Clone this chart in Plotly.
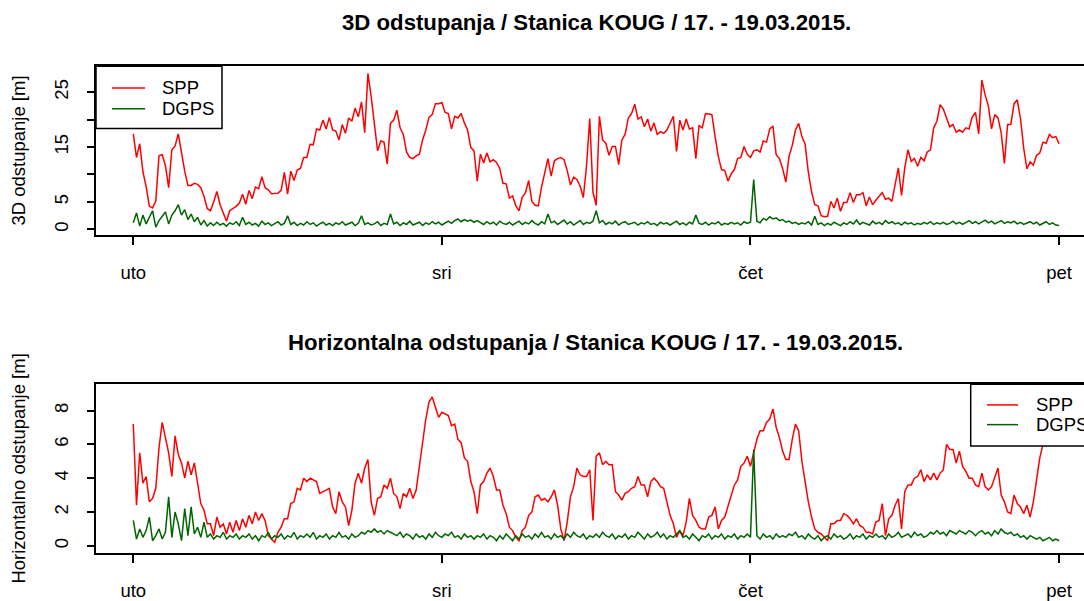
import numpy as np
import plotly.graph_objects as go

W, H = 1084, 601
# the page is drawn slightly squeezed vertically; place items accordingly
VSCALE = 0.984

# 15-minute epochs over three days (hours since Tuesday 00:00)
hours = np.arange(289) * 0.25

spp_3d = [
    17.4, 13.1, 15.6, 10.5, 7.8, 4.2, 3.9, 5.2, 13.4, 13.6, 11.6, 7.6,
    14.5, 15.2, 17.4, 13.7, 10.6, 8.0, 8.0, 8.4, 8.2, 7.6, 6.0, 3.8,
    3.4, 5.0, 6.9, 4.5, 2.8, 1.5, 3.4, 3.8, 4.2, 4.8, 6.4, 4.6,
    7.1, 5.6, 7.7, 7.4, 9.6, 7.6, 7.2, 6.5, 6.6, 6.6, 7.1, 10.4,
    6.4, 10.6, 8.9, 10.8, 11.1, 13.1, 13.1, 15.5, 15.4, 18.3, 18.1, 19.9,
    18.3, 20.4, 18.1, 17.9, 16.3, 19.1, 17.5, 20.3, 19.7, 22.1, 20.5, 23.2,
    17.6, 28.4, 24.2, 19.7, 14.3, 16.1, 15.9, 11.9, 19.3, 19.9, 21.7, 18.5,
    17.3, 14.1, 13.1, 12.9, 13.4, 13.7, 16.3, 18.1, 20.4, 20.9, 22.9, 22.9,
    23.1, 21.3, 21.1, 18.3, 20.6, 20.3, 21.1, 19.4, 18.1, 14.9, 14.3, 8.8,
    13.7, 12.1, 13.9, 12.3, 12.7, 12.2, 11.1, 8.4, 8.3, 5.7, 6.1, 4.3,
    3.4, 5.9, 6.7, 8.9, 5.1, 4.4, 4.3, 7.7, 10.1, 12.9, 9.7, 12.5,
    12.9, 13.1, 12.7, 10.7, 8.1, 9.5, 9.1, 7.9, 5.8, 11.6, 20.2, 6.8,
    4.4, 20.6, 16.3, 15.7, 13.5, 15.1, 15.1, 11.8, 16.3, 17.3, 20.3, 21.1,
    22.8, 20.1, 20.5, 18.7, 20.1, 17.9, 19.4, 17.3, 17.8, 17.5, 18.1, 19.4,
    20.6, 14.2, 19.9, 18.1, 20.1, 18.3, 18.5, 12.9, 18.9, 18.5, 21.1, 21.0,
    20.9, 16.9, 13.3, 10.9, 10.7, 8.8, 10.1, 10.9, 12.9, 13.1, 15.1, 13.7,
    13.1, 14.3, 14.5, 14.1, 16.1, 15.9, 18.3, 18.8, 13.6, 12.9, 11.1, 8.6,
    13.3, 15.3, 18.1, 19.3, 16.9, 15.5, 10.4, 6.9, 4.5, 4.3, 2.5, 2.3,
    2.4, 5.1, 3.9, 5.7, 3.3, 4.9, 4.9, 6.7, 4.9, 6.3, 6.3, 6.7,
    4.3, 5.9, 4.5, 5.3, 6.1, 6.7, 5.5, 5.7, 5.1, 8.3, 11.2, 6.2,
    11.2, 14.5, 12.4, 12.9, 11.5, 13.1, 12.5, 14.1, 14.5, 18.5, 19.7, 22.7,
    21.9, 20.3, 18.7, 19.1, 17.7, 18.1, 17.7, 18.5, 18.3, 20.5, 21.3, 17.4,
    27.2, 24.5, 22.5, 18.3, 20.9, 20.3, 17.6, 12.0, 19.1, 19.1, 22.9, 23.6,
    20.2, 14.8, 11.0, 12.3, 11.7, 13.5, 13.9, 15.9, 15.7, 17.3, 16.7, 16.9, 15.6,
]

dgps_3d = [
    1.2, 3.0, 0.6, 2.6, 1.0, 2.2, 3.4, 0.4, 1.6, 2.4, 3.2, 1.0,
    2.6, 3.4, 4.5, 2.6, 3.6, 1.8, 2.8, 1.4, 2.2, 0.8, 1.6, 0.6,
    1.2, 0.7, 1.3, 0.8, 1.1, 0.6, 1.2, 0.9, 1.4, 0.7, 2.2, 0.9,
    1.3, 0.8, 1.1, 0.6, 1.5, 0.9, 1.2, 0.7, 1.0, 1.4, 0.8, 1.1,
    2.5, 0.9, 1.3, 0.7, 1.1, 0.8, 1.4, 0.9, 1.2, 0.6, 1.0, 1.3,
    0.8, 1.1, 0.7, 1.2, 0.9, 1.4, 0.8, 1.0, 1.3, 0.7, 1.1, 2.5,
    0.9, 1.2, 0.8, 1.0, 1.4, 0.7, 1.1, 0.9, 2.8, 1.0, 1.3, 0.7,
    1.2, 0.9, 1.5, 0.8, 1.1, 1.3, 0.7, 1.2, 0.9, 1.4, 1.0, 1.3,
    0.8, 1.2, 1.5, 1.1, 1.6, 1.9, 1.4, 1.8, 1.5, 1.7, 1.3, 1.6,
    1.2, 0.9, 1.4, 1.0, 1.3, 0.8, 1.5, 1.1, 0.9, 1.3, 0.8, 1.2,
    1.5, 0.9, 1.3, 1.0, 1.6, 1.1, 0.8, 1.4, 1.0, 2.8, 1.2, 1.5,
    0.9, 1.3, 1.7, 1.0, 1.4, 0.8, 1.2, 1.6, 0.9, 1.3, 1.1, 1.5,
    3.4, 1.2, 1.6, 0.9, 1.3, 1.0, 1.5, 0.8, 1.2, 1.4, 0.9, 1.1,
    1.3, 0.8, 1.2, 1.0, 1.4, 0.9, 1.1, 0.7, 1.3, 1.0, 1.2, 0.8,
    1.1, 1.5, 0.9, 1.2, 0.8, 1.3, 1.0, 2.6, 1.1, 0.9, 1.3, 0.8,
    1.2, 1.0, 1.4, 0.8, 1.1, 0.9, 1.3, 1.0, 1.2, 0.8, 1.4, 1.1,
    1.3, 9.1, 1.5, 1.2, 2.0, 1.7, 2.3, 1.9, 2.1, 1.6, 1.8, 1.3,
    1.5, 1.1, 1.3, 0.9, 1.2, 1.0, 1.4, 0.8, 2.4, 0.9, 1.2, 0.7,
    1.1, 0.8, 1.3, 1.0, 0.7, 1.2, 0.9, 1.4, 1.0, 1.7, 0.9, 1.3,
    1.1, 0.8, 1.5, 1.0, 1.3, 0.9, 1.6, 1.1, 1.4, 1.0, 1.2, 0.8,
    1.3, 1.0, 1.2, 0.8, 1.1, 0.9, 1.3, 1.0, 1.4, 0.9, 1.2, 1.0,
    1.3, 0.9, 1.1, 1.5, 1.0, 1.3, 0.9, 1.2, 1.6, 1.1, 1.4, 1.0,
    1.3, 1.7, 1.2, 1.5, 1.0, 1.3, 1.6, 1.1, 1.4, 1.2, 1.5, 1.0,
    1.3, 0.9, 1.2, 1.4, 1.0, 1.3, 0.8, 1.1, 1.4, 0.9, 1.2, 0.8, 0.7,
]

spp_hor = [
    7.2, 2.4, 5.5, 3.7, 4.1, 2.6, 2.8, 3.4, 5.8, 7.3, 6.4, 5.5,
    4.1, 6.5, 5.4, 4.9, 4.0, 5.0, 4.2, 4.9, 3.7, 2.5, 2.1, 1.3,
    1.3, 0.6, 1.7, 1.1, 1.3, 0.7, 1.4, 0.8, 1.5, 0.9, 1.6, 1.1,
    1.8, 1.3, 2.0, 1.5, 1.9, 1.5, 0.6, 0.4, 0.2, 0.8, 1.1, 1.6,
    1.6, 2.5, 2.6, 3.4, 3.3, 4.0, 3.8, 4.0, 3.9, 3.8, 3.1, 3.2,
    3.3, 3.4, 2.3, 1.9, 3.2, 2.6, 2.3, 1.2, 2.1, 3.7, 4.3, 3.7,
    4.6, 5.1, 2.6, 1.8, 2.8, 2.9, 3.6, 3.4, 4.0, 3.1, 2.9, 2.2,
    3.1, 2.9, 3.4, 2.8, 3.3, 4.8, 6.3, 7.5, 8.5, 8.8, 8.2, 7.6,
    7.9, 7.8, 7.7, 7.1, 7.2, 6.3, 6.1, 5.2, 5.0, 3.8, 3.2, 1.9,
    3.6, 3.8, 4.3, 4.6, 4.1, 3.3, 3.3, 2.4, 1.9, 1.1, 0.9, 0.5,
    0.3, 0.9, 1.1, 1.8, 2.0, 2.9, 3.0, 2.7, 2.8, 2.6, 2.9, 3.3,
    2.4, 1.0, 0.3, 1.4, 2.9, 3.5, 4.6, 4.2, 4.1, 4.1, 4.5, 1.5,
    5.3, 5.5, 4.8, 5.0, 4.8, 4.8, 3.2, 3.0, 2.7, 3.1, 3.2, 3.4,
    3.5, 4.1, 3.6, 3.6, 2.9, 3.8, 4.0, 3.8, 3.5, 3.4, 2.5, 1.8,
    1.3, 0.5, 0.9, 0.6, 1.4, 2.8, 1.8, 1.5, 1.1, 1.0, 1.0, 1.7,
    1.8, 2.3, 1.0, 1.5, 1.7, 2.3, 2.9, 3.6, 3.9, 4.7, 4.9, 5.3,
    4.7, 5.6, 6.3, 6.8, 6.8, 7.3, 7.5, 8.1, 7.0, 6.4, 5.6, 5.1,
    5.1, 6.3, 7.2, 6.8, 5.0, 3.8, 2.6, 1.7, 1.0, 0.8, 0.7, 0.5,
    0.3, 1.3, 1.3, 1.5, 1.5, 1.9, 1.8, 1.6, 1.3, 1.6, 1.2, 1.1,
    0.8, 0.8, 0.7, 1.4, 1.5, 2.5, 0.6, 1.6, 1.8, 2.4, 2.8, 1.0,
    3.2, 3.6, 3.6, 4.0, 4.1, 4.5, 3.8, 4.2, 3.9, 4.3, 3.9, 4.3,
    4.5, 6.0, 5.7, 5.7, 4.9, 5.6, 4.7, 4.4, 4.0, 4.0, 3.6, 3.5,
    4.3, 3.5, 3.3, 3.5, 4.0, 4.6, 3.0, 2.6, 2.0, 1.9, 3.0, 2.5,
    2.3, 1.9, 2.4, 1.7, 2.6, 4.0, 5.2, 6.0, 6.5, 7.0, 7.3, 7.6, 7.8,
]

dgps_hor = [
    1.5, 0.4, 1.0, 0.5, 0.9, 1.7, 0.3, 0.6, 1.0, 0.4, 0.8, 2.9,
    0.5, 2.0, 1.3, 0.3, 2.2, 0.6, 2.3, 0.7, 1.1, 0.5, 1.4, 0.5,
    0.7, 0.4, 0.6, 0.5, 0.8, 0.4, 0.6, 0.5, 0.7, 0.4, 0.6, 0.5,
    0.7, 0.4, 0.6, 0.3, 0.6, 0.5, 0.8, 0.4, 0.6, 0.5, 0.7, 0.4,
    0.6, 0.5, 0.8, 0.4, 0.6, 0.5, 0.7, 0.5, 0.8, 0.4, 0.6, 0.5,
    0.7, 0.4, 0.6, 0.5, 0.8, 0.5, 0.6, 0.4, 0.7, 0.5, 0.6, 0.8,
    0.7, 0.9, 0.8, 1.0, 0.8, 0.9, 0.7, 0.9, 0.8, 0.7, 0.6, 0.8,
    0.5, 0.7, 0.6, 0.4, 0.7, 0.5, 0.6, 0.4, 0.7, 0.5, 0.8, 0.6,
    0.5, 0.7, 0.6, 0.8, 0.5, 0.6, 0.4, 0.7, 0.5, 0.6, 0.4, 0.6,
    0.5, 0.7, 0.4, 0.6, 0.5, 0.3, 0.6, 0.4, 0.7, 0.5, 0.3, 0.6,
    0.4, 0.7, 0.5, 0.6, 0.4, 0.7, 0.5, 0.8, 0.5, 0.6, 0.4, 0.7,
    0.5, 0.6, 0.4, 0.7, 0.5, 0.8, 0.6, 0.5, 0.7, 0.4, 0.6, 0.5,
    0.7, 0.5, 0.8, 0.6, 0.5, 0.7, 0.4, 0.6, 0.5, 0.7, 0.4, 0.6,
    0.5, 0.8, 0.6, 0.4, 0.7, 0.5, 0.6, 0.8, 0.5, 0.7, 0.4, 0.6,
    0.5, 0.7, 0.9, 0.5, 0.6, 0.4, 0.7, 0.5, 0.3, 0.6, 0.5, 0.7,
    0.4, 0.6, 0.5, 0.7, 0.4, 0.6, 0.5, 0.7, 0.4, 0.6, 0.5, 0.7,
    0.5, 5.7, 0.6, 0.4, 0.7, 0.5, 0.6, 0.4, 0.7, 0.5, 0.6, 0.5,
    0.7, 0.6, 0.8, 0.5, 0.6, 0.4, 0.7, 0.5, 0.4, 0.6, 0.3, 0.5,
    0.6, 0.4, 0.7, 0.5, 0.6, 0.4, 0.5, 0.7, 0.4, 0.6, 0.5, 0.7,
    0.4, 0.6, 0.5, 0.7, 0.5, 0.6, 0.4, 0.7, 0.5, 0.6, 0.8, 0.5,
    0.6, 0.7, 0.5, 0.8, 0.6, 0.7, 0.5, 0.6, 0.8, 0.7, 0.9, 0.7,
    0.8, 0.6, 0.9, 0.8, 0.7, 0.9, 0.8, 0.7, 0.9, 0.8, 0.6, 0.8,
    0.9, 0.7, 0.8, 0.6, 0.9, 0.7, 1.0, 0.8, 0.7, 0.8, 0.6, 0.7,
    0.5, 0.6, 0.4, 0.6, 0.5, 0.4, 0.5, 0.3, 0.4, 0.5, 0.3, 0.4, 0.3,
]

day_ticks = [0, 24, 48, 72]
day_labels = ["uto", "sri", "čet", "pet"]

ticks_3d = [0, 5, 10, 15, 20, 25]
labels_3d = ["0", "5", "", "15", "", "25"]
ticks_hor = [0, 2, 4, 6, 8]
labels_hor = ["0", "2", "4", "6", "8"]

series_names = ["SPP", "DGPS"]
RED = "#FF0000"
GREEN = "#006400"
FONT = "Liberation Sans, Arial, sans-serif"
FS = 18.5
LW = 1.5
FRAME = 1.5


def fx(x):
    return x / W


def fy(y):
    return 1 - y / (H * VSCALE)


fig = go.Figure()
fig.add_trace(go.Scatter(x=hours, y=spp_3d, mode="lines", line=dict(color=RED, width=LW),
                         xaxis="x", yaxis="y", name="SPP", showlegend=False))
fig.add_trace(go.Scatter(x=hours, y=dgps_3d, mode="lines", line=dict(color=GREEN, width=LW),
                         xaxis="x", yaxis="y", name="DGPS", showlegend=False))
fig.add_trace(go.Scatter(x=hours, y=spp_hor, mode="lines", line=dict(color=RED, width=LW),
                         xaxis="x2", yaxis="y2", name="SPP", showlegend=False))
fig.add_trace(go.Scatter(x=hours, y=dgps_hor, mode="lines", line=dict(color=GREEN, width=LW),
                         xaxis="x2", yaxis="y2", name="DGPS", showlegend=False))

x_range = [-2.90, 73.94]
common_x = dict(range=x_range, tickmode="array", tickvals=day_ticks, ticktext=day_labels,
                showline=True, linecolor="black", linewidth=FRAME, mirror=True,
                ticks="outside", ticklen=8, tickcolor="black", tickwidth=FRAME,
                showgrid=False, zeroline=False, ticklabelstandoff=12,
                tickfont=dict(family=FONT, size=FS, color="black"))
common_y = dict(showline=True, linecolor="black", linewidth=FRAME, mirror=False,
                ticks="outside", ticklen=7, tickcolor="black", tickwidth=FRAME,
                showgrid=False, zeroline=False, tickangle=-90, ticklabelstandoff=12,
                tickfont=dict(family=FONT, size=FS, color="black"))

fig.update_layout(
    width=W, height=H, autosize=False,
    margin=dict(l=0, r=0, t=0, b=0),
    paper_bgcolor="white", plot_bgcolor="white",
    showlegend=False,
    xaxis=dict(domain=[fx(96), 1.0], anchor="y", **common_x),
    yaxis=dict(domain=[fy(238), fy(67)], anchor="x", range=[-1.025, 29.73],
               tickmode="array", tickvals=ticks_3d, ticktext=labels_3d, **common_y),
    xaxis2=dict(domain=[fx(96), 1.0], anchor="y2", **common_x),
    yaxis2=dict(domain=[fy(560), fy(389)], anchor="x2", range=[-0.426, 9.562],
                tickmode="array", tickvals=ticks_hor, ticktext=labels_hor, **common_y),
)

annotations = [
    dict(text="<b>3D odstupanja / Stanica KOUG / 17. - 19.03.2015.</b>",
         x=fx(596.5), y=fy(23), font=dict(size=22.2)),
    dict(text="<b>Horizontalna odstupanja / Stanica KOUG / 17. - 19.03.2015.</b>",
         x=fx(595.5), y=fy(347), font=dict(size=22.2)),
    dict(text="3D odstupanje [m]", x=fx(19), y=fy(152.5), textangle=-90, font=dict(size=FS)),
    dict(text="Horizontalno odstupanje [m]", x=fx(19), y=fy(474.5), textangle=-90, font=dict(size=FS)),
]

shapes = []
# legend boxes: (left, top, right, bottom, line x0, line x1, text x, row ys)
legend_boxes = [
    (96, 67, 222, 130, 112, 145, 160, (89, 110)),
    (970.7, 389, 1110, 451.7, 987, 1018, 1034, (410, 430)),
]
for (l, t, r, b, lx0, lx1, tx, rows) in legend_boxes:
    shapes.append(dict(type="rect", xref="paper", yref="paper",
                       x0=fx(l), x1=fx(r), y0=fy(b), y1=fy(t),
                       fillcolor="white", line=dict(color="black", width=FRAME), layer="above"))
    for name, color, yy in zip(series_names, [RED, GREEN], rows):
        shapes.append(dict(type="line", xref="paper", yref="paper",
                           x0=fx(lx0), x1=fx(lx1), y0=fy(yy), y1=fy(yy),
                           line=dict(color=color, width=LW), layer="above"))
        annotations.append(dict(text=name, x=fx(tx), y=fy(yy), xanchor="left",
                                font=dict(size=FS)))

for a in annotations:
    a.setdefault("xref", "paper")
    a.setdefault("yref", "paper")
    a.setdefault("showarrow", False)
    a.setdefault("xanchor", "center")
    a.setdefault("yanchor", "middle")
    a["font"] = dict(family=FONT, color="black", **a["font"])

fig.update_layout(annotations=annotations, shapes=shapes)

fig.write_html("out.html")
